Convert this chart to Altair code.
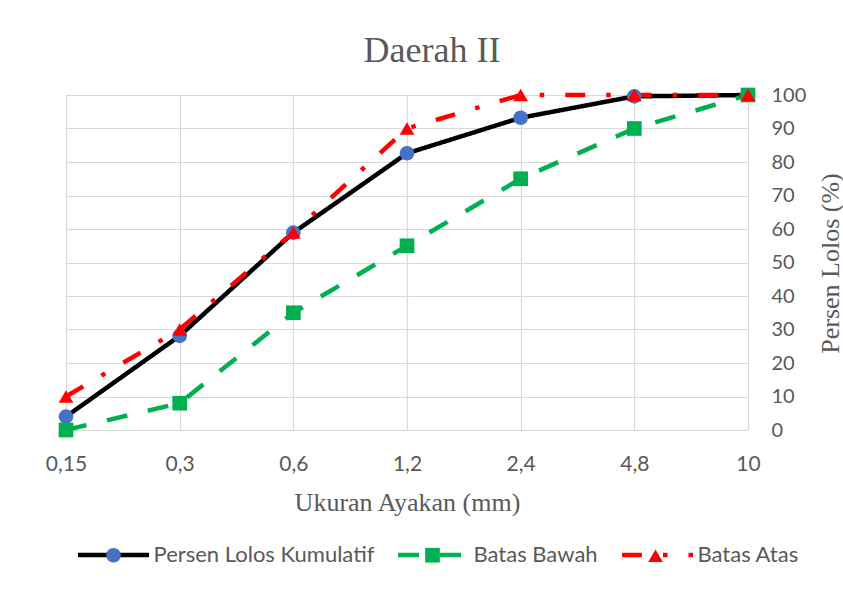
import altair as alt
import pandas as pd

# ---- data ----
sizes = ["0,15", "0,3", "0,6", "1,2", "2,4", "4,8", "10"]
series_names = ["Persen Lolos Kumulatif", "Batas Bawah", "Batas Atas"]
lolos = [4.0, 28.1, 58.9, 82.6, 93.2, 99.6, 100]
bawah = [0, 8, 35, 55, 75, 90, 100]
atas = [10, 30, 59, 90, 100, 100, 100]
y_ticks = list(range(0, 101, 10))

# ---- styles ----
line_colors = ["#000000", "#00B050", "#FF0000"]
marker_colors = ["#4472C4", "#00B050", "#FF0000"]
marker_shapes = ["circle", "square", "triangle-up"]
dashes = [[1, 0], [21, 21], [20, 21, 4.5, 21]]
TEXT = "#595959"

rows = []
for name, vals in zip(series_names, [lolos, bawah, atas]):
    for i, (s, v) in enumerate(zip(sizes, vals)):
        rows.append({"ukuran": s, "idx": i, "persen": v, "seri": name, "penanda": name})
df = pd.DataFrame(rows)

x = alt.X(
    "ukuran:O",
    sort=sizes,
    scale=alt.Scale(type="point", padding=0),
    axis=alt.Axis(
        title="Ukuran Ayakan (mm)",
        labelAngle=0,
        grid=True,
        labelPadding=23,
        titleY=80,
        titleBaseline="alphabetic",
    ),
)
y = alt.Y(
    "persen:Q",
    scale=alt.Scale(domain=[0, 100], nice=False),
    axis=alt.Axis(
        orient="right",
        values=y_ticks,
        title="Persen Lolos (%)",
        titleAngle=270,
        titleX=82,
        titleY=168,
        titleAlign="center",
        titleBaseline="middle",
        labelPadding=23,
        labelFontSize=20,
    ),
)

leg_common = dict(
    title=None,
    orient="none",
    legendX=9.5,
    legendY=422,
    direction="horizontal",
    labelFont="Lato",
    labelFontSize=22,
    labelColor=TEXT,
    labelOffset=2,
    labelLimit=400,
    padding=0,
    values=series_names,
)
legA = alt.Legend(
    symbolType="stroke", symbolSize=5041, symbolStrokeWidth=4.5, columnPadding=14, **leg_common
)
# marker-only legend laid exactly over the line legend (its labels are hidden)
legB = alt.Legend(
    symbolSize=215,
    symbolStrokeWidth=61.1,
    symbolStrokeColor="transparent",
    labelOpacity=0,
    columnPadding=-72,
    **leg_common,
)

lines = alt.Chart(df).mark_line(strokeWidth=4.5, strokeJoin="round").encode(
    x=x,
    y=y,
    color=alt.Color("seri:N", scale=alt.Scale(domain=series_names, range=line_colors), legend=legA),
    strokeDash=alt.StrokeDash("seri:N", scale=alt.Scale(domain=series_names, range=dashes), legend=legA),
    order=alt.Order("idx:Q"),
)

points = alt.Chart(df).mark_point(filled=True, size=215, opacity=1, strokeWidth=0).encode(
    x=x,
    y=y,
    fill=alt.Fill(
        "penanda:N",
        scale=alt.Scale(domain=series_names[::-1], range=marker_colors[::-1]),
        legend=legB,
    ),
    shape=alt.Shape(
        "penanda:N",
        scale=alt.Scale(domain=series_names[::-1], range=marker_shapes[::-1]),
        legend=legB,
    ),
)

chart = (
    alt.layer(lines, points)
    .properties(
        width=682,
        height=335,
        autosize=alt.AutoSizeParams(type="none"),
        padding={"left": 66, "top": 95, "right": 95, "bottom": 159},
        title=alt.TitleParams(
            "Daerah II",
            font="Liberation Serif",
            fontSize=36,
            fontWeight="normal",
            color=TEXT,
            anchor="middle",
            dx=25,
            dy=45,
            frame="group",
            baseline="alphabetic",
            offset=32,
        ),
        background="white",
    )
    .configure_view(strokeWidth=0)
    .configure_axis(
        labelFont="Lato",
        labelFontSize=21,
        labelColor=TEXT,
        titleFont="Liberation Serif",
        titleFontSize=26,
        titleFontWeight="normal",
        titleColor=TEXT,
        gridColor="#D9D9D9",
        gridWidth=1.2,
        domain=False,
        ticks=False,
        tickSize=0,
    )
)

chart.save("out.html", embed_options={"renderer": "svg", "actions": False})
